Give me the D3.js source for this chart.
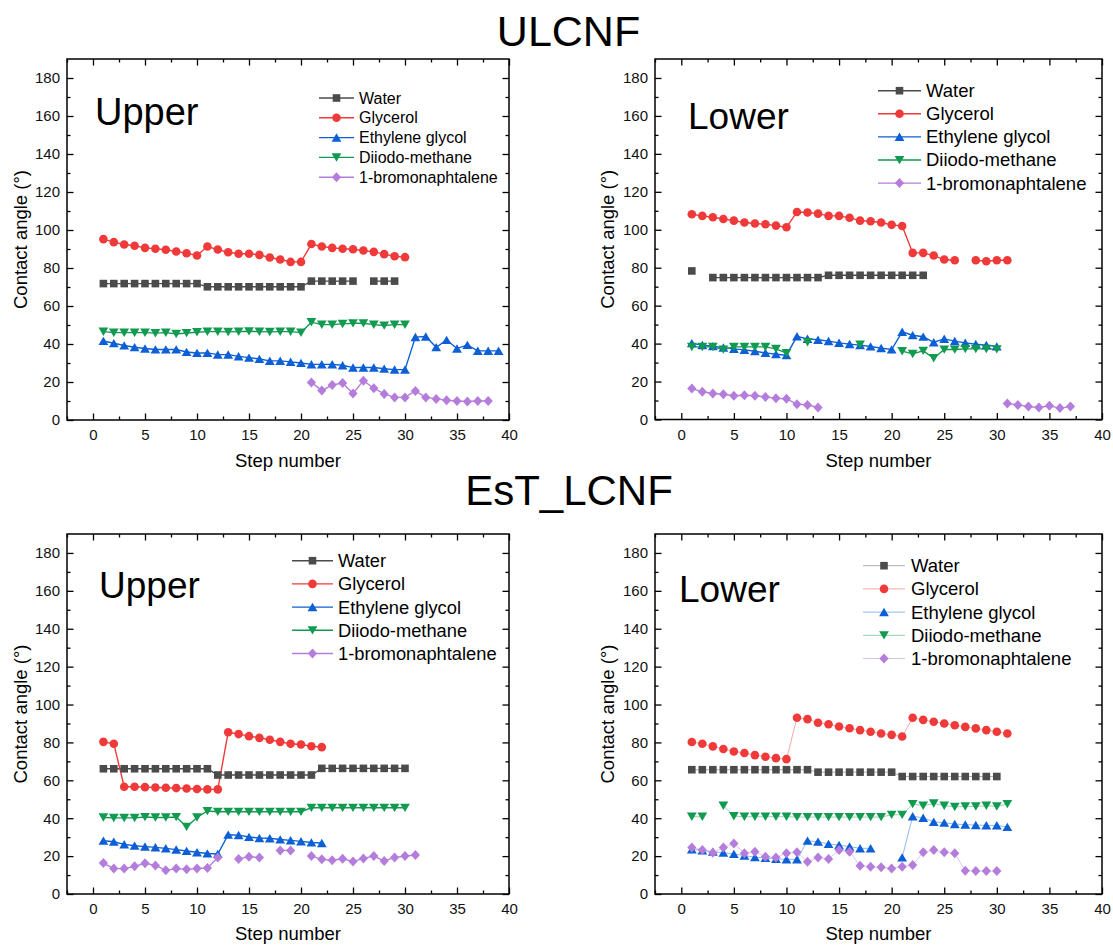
<!DOCTYPE html>
<html>
<head>
<meta charset="utf-8">
<script src="https://cdn.jsdelivr.net/npm/d3@7"></script>
<style>
  body { margin: 0; background: #fff; }
  svg { font-family: "Liberation Sans", Arial, sans-serif; }
</style>
</head>
<body>
<script>
const width = 1113;
const height = 947;

// series names and colours
const seriesNames = ["Water", "Glycerol", "Ethylene glycol", "Diiodo-methane", "1-bromonaphtalene"];
const seriesColors = ["#4b4b4b", "#f03a3a", "#0d5fd6", "#119a50", "#b47ddc"];
const seriesSymbols = ["square", "circle", "triUp", "triDown", "diamond"];

const xTicks = [0, 5, 10, 15, 20, 25, 30, 35, 40];
const yTicks = [0, 20, 40, 60, 80, 100, 120, 140, 160, 180];

// ULCNF - Upper (values by step number, starting at step 1, null = no point)
const water1 = [71.8, 71.8, 71.8, 71.8, 71.8, 71.8, 71.8, 71.8, 71.8, 71.8, 70.1, 70.1, 70.1, 70.1, 70.1, 70.1, 70.1, 70.1, 70.1, 70.1, 73.1, 73.1, 73.1, 73.1, 73.1, null, 73.1, 73.1, 73.1];
const glyc1 = [95.2, 93.6, 92.4, 91.7, 90.6, 90.1, 89.6, 88.7, 87.8, 86.6, 91.3, 89.7, 88.3, 87.5, 87.5, 86.9, 85.5, 84.5, 83.2, 83.2, 92.6, 91.3, 90.6, 90.1, 89.9, 89.2, 88.5, 87.3, 86.2, 85.7];
const eg1 = [41.6, 40.4, 39.2, 38.3, 37.6, 37.1, 37.1, 37.1, 35.8, 35.3, 35.3, 34.4, 34.4, 33.5, 32.8, 32.1, 31.1, 31.1, 30.6, 30.0, 29.3, 29.3, 29.3, 28.8, 27.6, 27.6, 27.6, 27.0, 26.5, 26.5, 43.6, 43.9, 38.3, 42.1, 37.6, 39.5, 36.4, 36.4, 36.4];
const dm1 = [46.5, 46.0, 46.0, 46.0, 46.0, 45.7, 46.0, 45.3, 45.8, 46.2, 46.5, 46.5, 46.4, 46.5, 46.7, 46.5, 46.4, 46.5, 46.5, 46.0, 51.5, 50.2, 50.2, 50.6, 50.9, 50.9, 50.2, 49.7, 50.2, 50.2];
const br1 = [null, null, null, null, null, null, null, null, null, null, null, null, null, null, null, null, null, null, null, null, 19.8, 15.5, 18.4, 19.5, 14.0, 20.7, 16.7, 13.7, 11.9, 11.9, 15.3, 11.9, 11.1, 10.4, 10.0, 9.7, 10.0, 10.0];

// ULCNF - Lower
const water2 = [78.3, null, 74.8, 74.8, 74.8, 74.8, 74.8, 74.8, 74.8, 74.8, 74.8, 74.8, 74.8, 76.0, 76.0, 76.0, 76.0, 76.0, 76.0, 76.0, 76.0, 76.0, 76.0];
const glyc2 = [108.2, 107.3, 106.6, 105.7, 104.8, 103.8, 103.3, 102.9, 102.2, 101.3, 109.4, 109.1, 108.5, 107.3, 107.3, 106.3, 104.8, 104.5, 103.8, 102.6, 102.0, 87.8, 87.8, 86.4, 84.3, 83.9, null, 83.9, 83.4, 83.9, 83.9];
const eg2 = [40.2, 39.2, 38.6, 37.9, 37.2, 36.7, 36.0, 35.1, 34.4, 33.9, 43.8, 42.5, 42.0, 41.3, 40.4, 39.7, 39.2, 38.5, 37.6, 36.9, 46.2, 44.4, 43.6, 40.7, 42.5, 41.3, 40.4, 39.7, 39.2, 38.5];
const dm2 = [38.3, 38.3, 38.3, 36.9, 38.3, 38.3, 38.3, 38.3, 37.2, 35.0, null, 40.8, null, null, null, null, 39.5, null, null, null, 36.0, 34.6, 36.2, 32.3, 36.9, 36.9, 37.2, 37.2, 37.2, 37.0];
const br2 = [16.3, 14.6, 13.7, 13.3, 12.5, 12.8, 12.5, 11.9, 11.2, 10.9, 8.1, 7.7, 6.3, null, null, null, null, null, null, null, null, null, null, null, null, null, null, null, null, null, 8.4, 7.7, 6.8, 6.3, 7.2, 6.0, 6.8];

// EsT_LCNF - Upper
const water3 = [66.1, 66.1, 66.1, 66.1, 66.1, 66.1, 66.1, 66.1, 66.1, 66.1, 66.1, 62.8, 62.8, 62.8, 62.8, 62.8, 62.8, 62.8, 62.8, 62.8, 62.8, 66.3, 66.3, 66.3, 66.3, 66.3, 66.3, 66.3, 66.3, 66.3];
const glyc3 = [80.3, 79.3, 56.6, 56.6, 56.4, 56.2, 56.1, 55.9, 55.7, 55.4, 55.2, 55.2, 85.4, 84.4, 83.3, 82.4, 81.4, 80.3, 79.3, 78.9, 78.0, 77.5];
const eg3 = [28.1, 27.6, 26.2, 25.5, 25.0, 24.6, 24.1, 23.4, 22.7, 22.0, 21.4, 21.1, 31.3, 31.1, 30.1, 29.5, 29.4, 28.8, 28.3, 27.8, 27.2, 26.9];
const dm3 = [40.4, 40.2, 40.2, 40.2, 40.6, 40.4, 40.4, 40.6, 35.5, 40.4, 43.8, 43.4, 43.4, 43.4, 43.4, 43.4, 43.4, 43.4, 43.4, 43.4, 45.5, 45.5, 45.5, 45.5, 45.5, 45.5, 45.5, 45.5, 45.5, 45.5];
const br3 = [16.3, 13.4, 13.4, 14.6, 16.2, 15.1, 12.5, 13.4, 13.0, 13.4, 13.7, 19.3, null, 18.5, 19.7, 19.2, null, 23.0, 23.0, null, 20.0, 18.3, 17.8, 18.6, 17.1, 18.8, 20.0, 17.4, 19.3, 20.0, 20.6];

// EsT_LCNF - Lower
const water4 = [65.6, 65.6, 65.6, 65.6, 65.6, 65.6, 65.6, 65.6, 65.6, 65.6, 65.6, 65.6, 64.3, 64.3, 64.3, 64.3, 64.3, 64.3, 64.3, 64.3, 62.0, 62.0, 62.0, 62.0, 62.0, 62.0, 62.0, 62.0, 62.0, 62.0];
const glyc4 = [80.2, 79.3, 77.9, 76.5, 75.2, 74.4, 73.3, 72.4, 71.7, 71.2, 93.0, 92.3, 90.4, 89.6, 88.4, 87.5, 86.5, 85.6, 84.7, 84.0, 83.1, 93.0, 91.9, 90.9, 90.0, 89.1, 88.2, 87.4, 86.5, 85.6, 84.7];
const eg4 = [23.6, 23.0, 22.3, 21.8, 21.1, 20.3, 19.4, 19.0, 18.5, 18.3, 18.3, 28.1, 27.6, 26.4, 25.8, 25.0, 24.1, 24.1, null, null, 19.3, 41.0, 40.2, 38.1, 37.6, 36.9, 36.6, 36.4, 36.2, 36.2, 35.4];
const dm4 = [40.8, 40.8, null, 46.6, 41.1, 40.8, 40.8, 40.8, 40.8, 40.8, 40.6, 40.6, 40.6, 40.6, 40.6, 40.6, 40.6, 40.6, 40.6, 41.8, 41.8, 47.5, 46.6, 47.8, 46.6, 46.0, 46.2, 46.2, 46.6, 46.2, 47.5];
const br4 = [24.6, 23.2, 21.8, 24.6, 26.7, 21.5, 22.3, 19.7, 19.2, 21.5, 22.1, 17.0, 19.2, 18.5, 23.2, 22.3, 14.9, 14.4, 14.1, 13.5, 14.4, 15.3, 22.1, 23.2, 22.1, 21.5, 12.3, 12.1, 12.1, 12.1];

const panels = [
    { box: [67, 509, 59, 420], label: "Upper", labelPos: [95, 125], labelSize: 38,
      legend: { x0: 319, x1: 354, tx: 359, y0: 98, dy: 19.8, fs: 16 },
      yLabelX: 27, xLabelY: 467, faint: false,
      data: [water1, glyc1, eg1, dm1, br1] },
    { box: [655, 1102, 59, 419.5], label: "Lower", labelPos: [688, 129], labelSize: 37,
      legend: { x0: 878, x1: 921, tx: 926, y0: 90.7, dy: 23.1, fs: 18.5 },
      yLabelX: 614, xLabelY: 467, faint: false,
      data: [water2, glyc2, eg2, dm2, br2] },
    { box: [67, 509, 534, 894], label: "Upper", labelPos: [99, 598], labelSize: 37,
      legend: { x0: 292, x1: 333, tx: 338, y0: 560.7, dy: 23.2, fs: 18.3 },
      yLabelX: 27, xLabelY: 940, faint: false,
      data: [water3, glyc3, eg3, dm3, br3] },
    { box: [655, 1102, 534, 894], label: "Lower", labelPos: [679, 602], labelSize: 37,
      legend: { x0: 863, x1: 905, tx: 911, y0: 565.7, dy: 23.2, fs: 18.5 },
      yLabelX: 614, xLabelY: 940, faint: true,
      data: [water4, glyc4, eg4, dm4, br4] }
];

let svg = d3.select("body").append("svg")
    .attr("width", width)
    .attr("height", height);

svg.append("text")
    .attr("x", 568.5).attr("y", 46)
    .attr("text-anchor", "middle")
    .style("font-size", "43px")
    .text("ULCNF");

svg.append("text")
    .attr("x", 569).attr("y", 505)
    .attr("text-anchor", "middle")
    .style("font-size", "42px")
    .text("EsT_LCNF");

function symbolPath(type) {
    if (type === "square") return "M-3.8,-3.8H3.8V3.8H-3.8Z";
    if (type === "circle") return "M4.3,0A4.3,4.3,0,1,1,-4.3,0A4.3,4.3,0,1,1,4.3,0Z";
    if (type === "triUp") return "M0,-4.3L4.9,4.1L-4.9,4.1Z";
    if (type === "triDown") return "M0,4.3L4.9,-4.1L-4.9,-4.1Z";
    return "M0,-5L4.6,0L0,5L-4.6,0Z";
}

function drawPanel(p) {
    const [left, right, top, bottom] = p.box;
    const g = svg.append("g");

    let xScale = d3.scaleLinear().domain([-2.5, 40]).range([left, right]);
    let yScale = d3.scaleLinear().domain([0, 190]).range([bottom, top]);

    const xMinor = d3.range(-2.5, 40.1, 2.5).filter(v => !xTicks.includes(v));
    const yMinor = d3.range(10, 190, 20);

    // major + minor ticks, all pointing inward
    const axes = [
        [d3.axisBottom(xScale).tickValues(xTicks).tickSizeInner(-6.5).tickPadding(9.4).tickSizeOuter(0), `translate(0,${bottom})`, true],
        [d3.axisBottom(xScale).tickValues(xMinor).tickSizeInner(-3.5).tickFormat("").tickSizeOuter(0), `translate(0,${bottom})`, false],
        [d3.axisTop(xScale).tickValues(xTicks).tickSizeInner(-6.5).tickFormat("").tickSizeOuter(0), `translate(0,${top})`, false],
        [d3.axisTop(xScale).tickValues(xMinor).tickSizeInner(-3.5).tickFormat("").tickSizeOuter(0), `translate(0,${top})`, false],
        [d3.axisLeft(yScale).tickValues(yTicks).tickSizeInner(-6.5).tickPadding(7).tickSizeOuter(0), `translate(${left},0)`, true],
        [d3.axisLeft(yScale).tickValues(yMinor).tickSizeInner(-3.5).tickFormat("").tickSizeOuter(0), `translate(${left},0)`, false],
        [d3.axisRight(yScale).tickValues(yTicks).tickSizeInner(-6.5).tickFormat("").tickSizeOuter(0), `translate(${right},0)`, false],
        [d3.axisRight(yScale).tickValues(yMinor).tickSizeInner(-3.5).tickFormat("").tickSizeOuter(0), `translate(${right},0)`, false]
    ];
    axes.forEach(([ax, tr, labelled]) => {
        let a = g.append("g").attr("transform", tr).call(ax);
        a.select(".domain").remove();
        a.selectAll("line").attr("stroke", "#000").attr("stroke-width", 1.3);
        if (labelled) a.selectAll("text").attr("fill", "#111").style("font-size", "15px").style("font-family", "Liberation Sans, Arial, sans-serif");
    });

    g.append("rect")
        .attr("x", left).attr("y", top)
        .attr("width", right - left).attr("height", bottom - top)
        .attr("fill", "none").attr("stroke", "#000").attr("stroke-width", 1.5);

    // axis titles
    g.append("text")
        .attr("text-anchor", "middle")
        .attr("transform", `translate(${p.yLabelX},${(top + bottom) / 2}) rotate(-90)`)
        .style("font-size", "18.5px")
        .text("Contact angle (°)");
    g.append("text")
        .attr("x", (left + right) / 2).attr("y", p.xLabelY)
        .attr("text-anchor", "middle")
        .style("font-size", "18.5px")
        .text("Step number");

    g.append("text")
        .attr("x", p.labelPos[0]).attr("y", p.labelPos[1])
        .style("font-size", p.labelSize + "px")
        .text(p.label);

    let line = d3.line()
        .defined(d => d.v != null)
        .x(d => xScale(d.step))
        .y(d => yScale(d.v));

    const lineWidth = p.faint ? 1 : 1.4;
    const lineOpacity = p.faint ? 0.45 : 1;

    p.data.forEach((vals, si) => {
        const pts = vals.map((v, i) => ({ step: i + 1, v: v }));
        g.append("path")
            .datum(pts)
            .attr("fill", "none")
            .attr("stroke", seriesColors[si])
            .attr("stroke-width", lineWidth)
            .attr("stroke-opacity", lineOpacity)
            .attr("d", line);
    });
    p.data.forEach((vals, si) => {
        const pts = vals.map((v, i) => ({ step: i + 1, v: v })).filter(d => d.v != null);
        g.selectAll(".m" + si)
            .data(pts)
            .enter()
            .append("path")
            .attr("class", "m" + si)
            .attr("transform", d => `translate(${xScale(d.step)},${yScale(d.v)})`)
            .attr("d", symbolPath(seriesSymbols[si]))
            .attr("fill", seriesColors[si]);
    });

    // legend
    const L = p.legend;
    seriesNames.forEach((name, si) => {
        const y = L.y0 + si * L.dy;
        g.append("line")
            .attr("x1", L.x0).attr("x2", L.x1)
            .attr("y1", y).attr("y2", y)
            .attr("stroke", seriesColors[si])
            .attr("stroke-width", lineWidth)
            .attr("stroke-opacity", lineOpacity);
        g.append("path")
            .attr("transform", `translate(${(L.x0 + L.x1) / 2},${y})`)
            .attr("d", symbolPath(seriesSymbols[si]))
            .attr("fill", seriesColors[si]);
        g.append("text")
            .attr("x", L.tx).attr("y", y)
            .attr("dy", "0.35em")
            .style("font-size", L.fs + "px")
            .text(name);
    });
}

panels.forEach(drawPanel);
</script>
</body>
</html>
